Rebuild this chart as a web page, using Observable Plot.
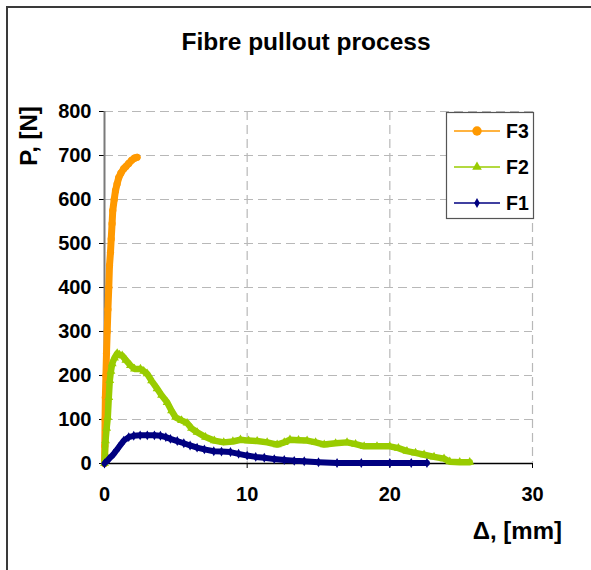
<!DOCTYPE html>
<html>
<head>
<meta charset="utf-8">
<script src="https://cdn.jsdelivr.net/npm/d3@7"></script>
<script src="https://cdn.jsdelivr.net/npm/@observablehq/plot@0.6"></script>
<style>
  html, body { margin: 0; padding: 0; background: #fff; }
  #wrap { position: relative; width: 591px; height: 570px; overflow: hidden; font-family: "Liberation Sans", Arial, sans-serif; }
  #frame { position: absolute; left: 6px; top: 6px; width: 620px; height: 620px; border-left: 2px solid #3a3a3a; border-top: 2px solid #3a3a3a; }
  #chart { position: absolute; left: 0; top: 0; }
  #overlay { position: absolute; left: 0; top: 0; pointer-events: none; }
</style>
</head>
<body>
<div id="wrap">
  <div id="frame"></div>
  <div id="chart"></div>
</div>
<script>
// ---- data ----
const seriesNames = ["F3", "F2", "F1"];
const seriesColors = ["#FF9900", "#99CC00", "#000080"];

const f3X = [0, 0.02, 0.04, 0.06, 0.1, 0.14, 0.19, 0.24, 0.3, 0.35, 0.42, 0.47, 0.53, 0.58, 0.68, 0.77, 0.88, 1.0, 1.15, 1.35, 1.5, 1.7, 1.9, 2.1, 2.28];
const f3Y = [0, 40, 100, 150, 200, 250, 300, 350, 400, 450, 480, 510, 545, 575, 600, 620, 635, 650, 660, 670, 675, 682, 689, 694, 696];

const f2X = [0, 0.07, 0.15, 0.23, 0.3, 0.37, 0.45, 0.54, 0.7, 0.89, 1.05, 1.24, 1.5, 1.82, 2.1, 2.52, 2.75, 2.99, 3.3, 3.69, 4.0, 4.39, 4.7, 4.98, 5.4, 5.79, 6.1, 6.49, 7.08, 7.7, 8.36, 9.0, 9.53, 10.1, 10.7, 11.4, 12.1, 12.6, 13.0, 13.6, 14.2, 14.8, 15.4, 16.2, 17.0, 17.6, 18.2, 19.1, 20.0, 20.6, 21.2, 21.8, 22.4, 23.1, 23.8, 24.2, 24.9, 25.6];
const f2Y = [0, 52, 80, 105, 150, 189, 210, 227, 240, 250, 247, 245, 235, 223, 215, 215, 210, 204, 188, 170, 155, 139, 120, 105, 98, 92, 80, 71, 60, 52, 48, 50, 54, 52, 51, 48, 43, 48, 54, 53, 52, 48, 43, 46, 48, 44, 39, 39, 39, 35, 28, 24, 20, 15, 11, 4, 3, 3];

const f1X = [0, 0.3, 0.65, 1.0, 1.35, 1.7, 2.05, 2.5, 3.0, 3.5, 3.92, 4.3, 4.62, 5.1, 5.56, 6.0, 6.49, 7.0, 7.66, 8.2, 8.83, 9.4, 10.0, 10.6, 11.2, 11.9, 12.6, 13.3, 14.0, 15.0, 16.3, 18.0, 20.0, 21.5, 22.6];
const f1Y = [0, 10, 22, 37, 52, 60, 63, 64, 64, 64, 63, 60, 56, 51, 46, 41, 36, 32, 28, 27, 26, 22, 18, 15, 13, 10, 8, 6, 5, 3, 1, 1, 1, 1, 1];

const xTicks = [0, 10, 20, 30];
const yTicks = [0, 100, 200, 300, 400, 500, 600, 700, 800];

const titleText = "Fibre pullout process";
const xTitle = "\u0394, [mm]";
const yTitle = "P, [N]";

// ---- build tables ----
const toRows = (xs, ys, name) => xs.map((x, i) => ({x, y: ys[i], series: name}));
const f3 = toRows(f3X, f3Y, "F3");
const f2 = toRows(f2X, f2Y, "F2");
const f1 = toRows(f1X, f1Y, "F1");

const W = 591, H = 570;
const mL = 104, mR = 59, mT = 111, mB = 107;

const chart = Plot.plot({
  width: W,
  height: H,
  marginLeft: mL,
  marginRight: mR,
  marginTop: mT,
  marginBottom: mB,
  style: {fontFamily: "'Liberation Sans', Arial, sans-serif", fontSize: "20px", fontWeight: "bold", color: "#000", background: "transparent"},
  x: {domain: [0, 30]},
  y: {domain: [0, 800]},
  marks: [
    Plot.gridY(yTicks.filter(d => d > 0), {stroke: "#b8b8b8", strokeOpacity: 1, strokeWidth: 1.2, strokeDasharray: "9,5"}),
    Plot.gridX(xTicks.filter(d => d > 0), {stroke: "#b8b8b8", strokeOpacity: 1, strokeWidth: 1.2, strokeDasharray: "9,5"}),
    Plot.axisY(yTicks, {tickSize: 5, tickPadding: 8, label: null, fontSize: 20, fontWeight: "bold", stroke: "#000"}),
    Plot.axisX(xTicks, {tickSize: 5, tickPadding: 18, label: null, fontSize: 20, fontWeight: "bold", stroke: "#000"}),
    Plot.ruleX([0], {stroke: "#7a7a7a", strokeWidth: 2}),
    Plot.ruleY([0], {stroke: "#000", strokeWidth: 1.5}),
    Plot.line(f3, {x: "x", y: "y", stroke: seriesColors[0], strokeWidth: 7, strokeLinecap: "round", strokeLinejoin: "round"}),
    Plot.dot(f3, {x: "x", y: "y", fill: seriesColors[0], r: 3.6, symbol: "circle"}),
    Plot.line(f2, {x: "x", y: "y", stroke: seriesColors[1], strokeWidth: 6.5, strokeLinecap: "round", strokeLinejoin: "round"}),
    Plot.dot(f2, {x: "x", y: "y", fill: seriesColors[1], r: 3.3, symbol: "triangle"}),
    Plot.line(f1, {x: "x", y: "y", stroke: seriesColors[2], strokeWidth: 6, strokeLinecap: "round", strokeLinejoin: "round"}),
    Plot.dot(f1, {x: "x", y: "y", fill: seriesColors[2], r: 3, symbol: "diamond"})
  ]
});
document.getElementById("chart").appendChild(chart);

// ---- overlay: title, axis titles, legend ----
const ov = d3.select("#wrap").append("svg")
  .attr("id", "overlay").attr("width", W).attr("height", H)
  .style("font-family", "'Liberation Sans', Arial, sans-serif").style("font-weight", "bold");

ov.append("text").attr("x", 306).attr("y", 50).attr("text-anchor", "middle")
  .attr("font-size", 24.5).text(titleText);

ov.append("text").attr("x", 562).attr("y", 539).attr("text-anchor", "end")
  .attr("font-size", 24).text(xTitle);

ov.append("text").attr("transform", "translate(37,136) rotate(-90)").attr("text-anchor", "middle")
  .attr("font-size", 24).text(yTitle);

// legend
const lg = ov.append("g");
lg.append("rect").attr("x", 446.5).attr("y", 112.5).attr("width", 87).attr("height", 106)
  .attr("fill", "#fff").attr("stroke", "#555").attr("stroke-width", 1.2);
const rowY = [131, 167, 203];
const symbols = [d3.symbolCircle, d3.symbolTriangle, d3.symbolDiamond];
const symSizes = [70, 40, 28];
seriesNames.forEach((name, i) => {
  const cy = rowY[i];
  lg.append("line").attr("x1", 454).attr("x2", 500).attr("y1", cy).attr("y2", cy)
    .attr("stroke", seriesColors[i]).attr("stroke-width", 2).attr("stroke-opacity", 0.75);
  lg.append("path").attr("d", d3.symbol(symbols[i], symSizes[i])())
    .attr("transform", `translate(477,${cy})`).attr("fill", seriesColors[i]);
  lg.append("text").attr("x", 506).attr("y", cy + 7).attr("font-size", 19.5).text(name);
});
</script>
</body>
</html>
